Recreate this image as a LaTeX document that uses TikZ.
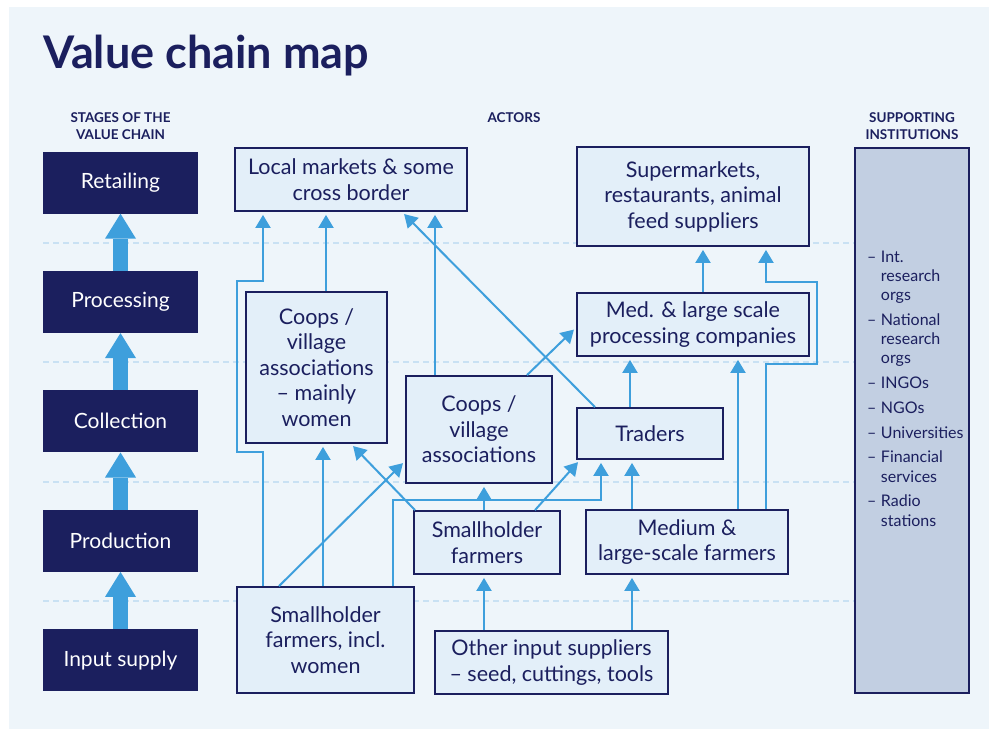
\documentclass[tikz,border=0pt]{standalone}
\usepackage{fontspec}
\setmainfont{Lato}
\usepackage{xcolor}
\usetikzlibrary{arrows.meta}

\definecolor{navy}{HTML}{1B1F5E}
\definecolor{panel}{HTML}{EEF5FA}
\definecolor{boxfill}{HTML}{E3EFF9}
\definecolor{flowblue}{HTML}{3E9FDC}
\definecolor{gridblue}{HTML}{C9E1F3}
\definecolor{supfill}{HTML}{C2CFE2}

\tikzset{
	stage/.style={fill=navy, text=white, minimum width=155pt, minimum height=62pt, inner sep=0pt, font=\fontsize{21}{25}\selectfont},
	actor/.style={draw=navy, line width=1.8pt, fill=boxfill, text=navy, align=center, inner sep=0pt, font=\fontsize{21.5}{25.5}\selectfont},
	flow/.style={draw=flowblue, line width=2pt, -{Triangle[width=15pt,length=13pt]}, shorten >=3pt},
	stagearrow/.style={draw=flowblue, line width=15pt, -{Triangle[width=31pt,length=25pt,line width=0pt]}},
	header/.style={text=navy, align=center, font=\bfseries\fontsize{13.5}{16.5}\selectfont},
	gridline/.style={draw=gridblue, line width=1.2pt, dash pattern=on 6pt off 4pt}
}

\begin{document}
\begin{tikzpicture}[x=1pt,y=-1pt]
	\useasboundingbox (0,0) rectangle (989,729);
	\fill[white] (0,0) rectangle (989,729);
	\fill[panel] (9,7) rectangle (989,729);
	
	% stage separators
	\foreach \y in {243,362,482,601}{
		\draw[gridline] (43,\y) -- (855,\y);
	}
	
	\node[anchor=base west, text=navy, inner sep=0pt, font=\bfseries\fontsize{45}{50}\selectfont] (title) at (43,68) {Value chain map};
	\node[header] (stagehead) at (120.5,126) {STAGES OF THE\\VALUE CHAIN};
	\node[header] (actorhead) at (514,118) {ACTORS};
	\node[header] (suphead) at (912,126) {SUPPORTING\\INSTITUTIONS};
	
	% stages
	\foreach \name/\txt [count=\i] in {retail/Retailing, process/Processing, collect/Collection, produce/Production, input/Input supply}{
		\node[stage] (\name) at (120.5,{182.5+119.4*(\i-1)}) {\txt};
	}
	\foreach \lo/\hi in {input/produce, produce/collect, collect/process, process/retail}{
		\draw[stagearrow] (\lo.north) -- (\hi.south);
	}
	
	% actors
	\node[actor, minimum width=232pt, minimum height=63pt] (lm) at (351,179.5) {Local markets \& some\\cross border};
	\node[actor, minimum width=232pt, minimum height=99pt] (sm) at (693,196.5) {Supermarkets,\\restaurants, animal\\feed suppliers};
	\node[actor, minimum width=232pt, minimum height=63pt] (mp) at (693,324.5) {Med. \& large scale\\processing companies};
	\node[actor, minimum width=146pt, minimum height=51pt] (tr) at (650,433.5) {Traders};
	\node[actor, minimum width=141pt, minimum height=151pt] (cl) at (316.5,367.5) {Coops /\\village\\associations\\– mainly\\women};
	\node[actor, minimum width=146pt, minimum height=107pt] (cm) at (479,429.5) {Coops /\\village\\associations};
	\node[actor, minimum width=146pt, minimum height=63pt] (sh) at (487,542.5) {Smallholder\\farmers};
	\node[actor, minimum width=202pt, minimum height=64pt] (mf) at (687,542) {Medium \&\\large-scale farmers};
	\node[actor, minimum width=177pt, minimum height=106pt] (sw) at (325.5,640) {Smallholder\\farmers, incl.\\women};
	\node[actor, minimum width=233pt, minimum height=63pt] (oi) at (551.5,662.5) {Other input suppliers\\– seed, cuttings, tools};
	
	% supporting institutions
	\node[draw=navy, line width=1.8pt, fill=supfill, minimum width=114pt, minimum height=545pt] (sup) at (912,420.5) {};
	\node[anchor=base west, text=navy, inner sep=0pt, font=\fontsize{16}{19.3}\selectfont] (suplist) at (867,262) {%
		\begin{tabular}[t]{@{}l@{\hspace{4.5pt}}l@{}}
			– & Int.\\ & research\\ & orgs\\[5.4pt]
			– & National\\ & research\\ & orgs\\[5.4pt]
			– & INGOs\\[5.4pt]
			– & NGOs\\[5.4pt]
			– & Universities\\[5.4pt]
			– & Financial\\ & services\\[5.4pt]
			– & Radio\\ & stations
		\end{tabular}};
	
	% flows
	\draw[flow] ([xshift=-62.5pt]sw.north) |- ++(-26,-134) |- ++(26,-171) -- ([xshift=-88pt]lm.south);
	\draw[flow] ([xshift=9.5pt]cl.north) -- ([xshift=9.5pt]cl.north |- lm.south);
	\draw[flow] ([xshift=-44pt]cm.north) -- ([xshift=-44pt]cm.north |- lm.south);
	\draw[flow] ([xshift=-55pt]tr.north) -- ([xshift=51pt]lm.south);
	\draw[flow] ([xshift=48pt]cm.north) -- ([yshift=-3pt]mp.west);
	\draw[flow] ([xshift=10pt]mp.north) -- ([xshift=10pt]mp.north |- sm.south);
	\draw[flow] ([xshift=79pt]mf.north) |- ++(51,-145) |- ++(-51,-82) -- ([xshift=73pt]sm.south);
	\draw[flow] ([xshift=51pt]mf.north) -- ([xshift=51pt]mf.north |- mp.south);
	\draw[flow] ([xshift=-20pt]tr.north) -- ([xshift=-20pt]tr.north |- mp.south);
	\draw[flow] ([xshift=-55pt]mf.north) -- ([xshift=-55pt]mf.north |- tr.south);
	\draw[flow] ([xshift=-3pt]sh.north) -- ([xshift=-3pt]sh.north |- cm.south);
	\draw[flow] ([xshift=48pt]sh.north) -- ([xshift=-70pt]tr.south);
	\draw[flow] ([xshift=67.5pt]sw.north) |- ++(208,-86) -- ([xshift=-49pt]tr.south);
	\draw[flow] ([xshift=-72pt]sh.north) -- ([xshift=34.5pt]cl.south);
	\draw[flow] ([xshift=-46.5pt]sw.north) -- ([yshift=-31.5pt]cm.west);
	\draw[flow] ([xshift=-2.5pt]sw.north) -- ([xshift=-2.5pt]sw.north |- cl.south);
	\draw[flow] ([xshift=-67.5pt]oi.north) -- ([xshift=-67.5pt]oi.north |- sh.south);
	\draw[flow] ([xshift=80.5pt]oi.north) -- ([xshift=80.5pt]oi.north |- mf.south);
	
\end{tikzpicture}
\end{document}
